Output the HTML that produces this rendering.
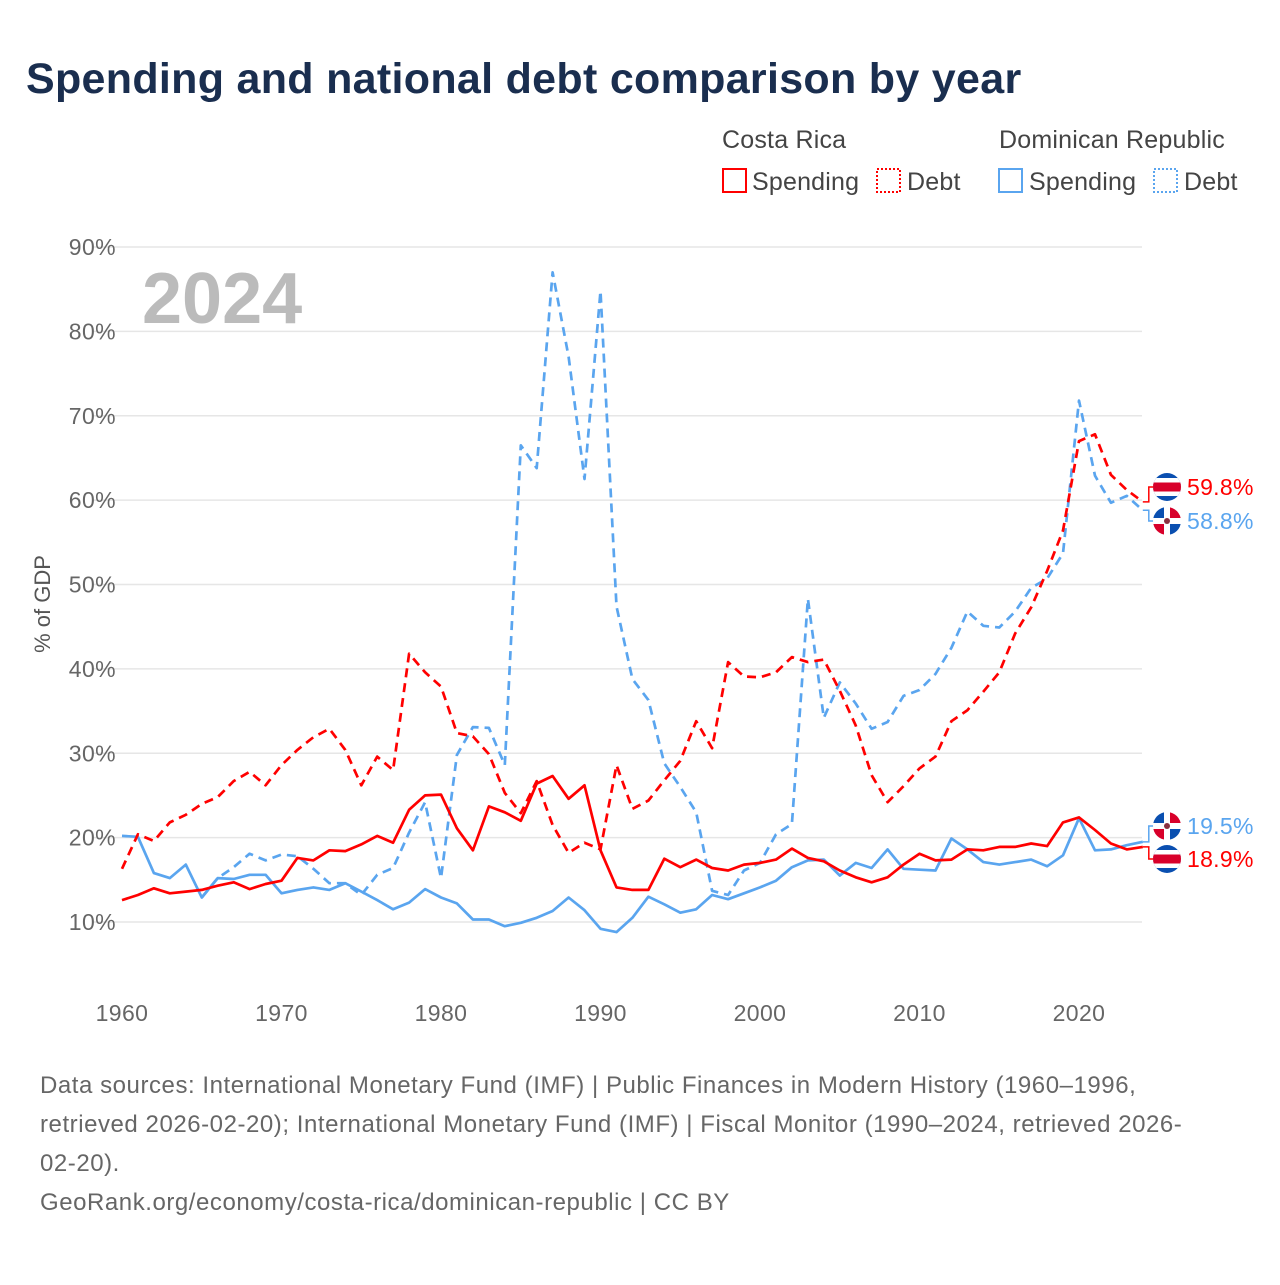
<!DOCTYPE html>
<html><head><meta charset="utf-8"><style>
body{margin:0;background:#fff;font-family:"Liberation Sans",sans-serif}
svg text{font-family:"Liberation Sans",sans-serif}
</style></head><body>
<svg id="c" width="1280" height="1280" xmlns="http://www.w3.org/2000/svg">
<text x="26" y="93" font-size="43" font-weight="bold" fill="#1a2e4f" letter-spacing="0.3">Spending and national debt comparison by year</text>
<g font-size="25" fill="#444" letter-spacing="0.2">
<text x="722" y="148">Costa Rica</text>
<text x="999" y="148">Dominican Republic</text>
<g><rect x="723" y="169" width="23" height="23" fill="none" stroke="#f00" stroke-width="2"/><text x="752" y="190">Spending</text></g>
<g><rect x="877" y="169" width="23" height="23" fill="none" stroke="#f00" stroke-width="2" stroke-dasharray="2,2"/><text x="907" y="190">Debt</text></g>
<g><rect x="999" y="169" width="23" height="23" fill="none" stroke="#5aa5ef" stroke-width="2"/><text x="1029" y="190">Spending</text></g>
<g><rect x="1154" y="169" width="23" height="23" fill="none" stroke="#5aa5ef" stroke-width="2" stroke-dasharray="2,2"/><text x="1184" y="190">Debt</text></g>
</g>
<text x="142" y="323" font-size="72" font-weight="bold" fill="#bbb">2024</text>
<text transform="translate(50,604) rotate(-90)" text-anchor="middle" font-size="22" fill="#555">% of GDP</text>
<g id="grid"></g><g id="lines"></g><g id="ends"></g>
<g font-size="24" fill="#666" letter-spacing="0.55">
<text x="40" y="1093">Data sources: International Monetary Fund (IMF) | Public Finances in Modern History (1960–1996,</text>
<text x="40" y="1132">retrieved 2026-02-20); International Monetary Fund (IMF) | Fiscal Monitor (1990–2024, retrieved 2026-</text>
<text x="40" y="1171">02-20).</text>
<text x="40" y="1210">GeoRank.org/economy/costa-rica/dominican-republic | CC BY</text>
</g>
</svg>
<script>
const yTicks=[10,20,30,40,50,60,70,80,90];
const xTicks=[1960,1970,1980,1990,2000,2010,2020];
const crSpending=[12.6,13.2,14.0,13.4,13.6,13.8,14.3,14.7,13.9,14.5,14.9,17.6,17.3,18.5,18.4,19.2,20.2,19.4,23.3,25.0,25.1,21.1,18.5,23.7,23.0,22.0,26.4,27.3,24.6,26.2,18.5,14.1,13.8,13.8,17.5,16.5,17.4,16.4,16.1,16.8,17.0,17.4,18.7,17.6,17.2,16.1,15.3,14.7,15.3,16.8,18.1,17.3,17.4,18.6,18.5,18.9,18.9,19.3,19.0,21.8,22.4,20.9,19.3,18.6,18.9];
const crDebt=[16.3,20.4,19.6,21.8,22.7,24.0,24.8,26.7,27.8,26.2,28.6,30.4,31.9,32.9,30.4,26.2,29.6,28.0,41.8,39.6,37.9,32.4,32.0,29.9,25.3,22.9,26.7,21.5,18.2,19.4,18.6,28.6,23.4,24.4,26.8,29.1,33.8,30.6,40.8,39.1,39.0,39.6,41.4,40.8,41.1,37.4,33.3,27.4,24.2,26.1,28.2,29.6,33.8,35.1,37.3,39.6,44.2,47.3,51.6,56.4,67.0,67.8,63.0,61.2,59.8];
const drSpending=[20.2,20.1,15.8,15.2,16.8,12.9,15.2,15.1,15.6,15.6,13.4,13.8,14.1,13.8,14.6,13.6,12.6,11.5,12.3,13.9,12.9,12.2,10.3,10.3,9.5,9.9,10.5,11.3,12.9,11.4,9.2,8.8,10.5,13.0,12.1,11.1,11.5,13.2,12.7,13.4,14.1,14.9,16.5,17.3,17.4,15.5,17.0,16.4,18.6,16.3,16.2,16.1,19.9,18.6,17.1,16.8,17.1,17.4,16.6,17.9,22.3,18.5,18.6,19.1,19.5];
const drDebt=[null,null,null,null,null,12.9,15.2,16.5,18.1,17.3,18.0,17.8,16.3,14.6,14.6,13.2,15.6,16.4,20.6,24.2,15.2,29.8,33.1,33.0,28.6,66.5,63.8,87.0,77.0,62.5,84.8,47.4,38.8,36.3,28.8,26.0,23.0,13.7,13.2,16.1,17.0,20.4,21.6,48.3,34.2,38.4,35.9,32.9,33.7,36.8,37.5,39.4,42.5,46.8,45.1,44.9,46.8,49.6,50.7,53.7,71.8,62.9,59.7,60.5,58.8];
const startYear=1960;
const X=y=>122+(y-1960)*(1079-122)/60;
const Y=v=>922-(v-10)*(922-247)/80;
const NS="http://www.w3.org/2000/svg";
function mk(t,a,p){const e=document.createElementNS(NS,t);for(const k in a)e.setAttribute(k,a[k]);p.appendChild(e);return e;}
const grid=document.getElementById('grid');
yTicks.forEach(v=>{
 const l=mk('line',{x1:92,x2:1142,y1:Y(v),y2:Y(v),stroke:'#e6e6e6','stroke-width':1.5},grid);
 
 
 const t=mk('text',{x:116,y:Y(v)+8,'text-anchor':'end','font-size':23,fill:'#666','letter-spacing':0.4},grid);
 t.textContent=v+'%';
 
 
});
xTicks.forEach(yr=>{
 const t=mk('text',{x:X(yr),y:1021,'text-anchor':'middle','font-size':23,fill:'#666','letter-spacing':0.4},grid);
 t.textContent=yr;
 
 
});
const lines=document.getElementById('lines');
function draw(arr,color,dash,name){
 let d='',pen=false;
 arr.forEach((v,i)=>{if(v==null){pen=false;return;}d+=(pen?'L':'M')+X(startYear+i).toFixed(1)+','+Y(v).toFixed(1);pen=true;});
 const p=mk('path',{d:d,fill:'none',stroke:color,'stroke-width':2.7,'stroke-linejoin':'round'},lines);
 if(dash)p.setAttribute('stroke-dasharray','9,6');
 
 
}
draw(drSpending,'#5aa5ef',false,'line-dr-spending');
draw(drDebt,'#5aa5ef',true,'line-dr-debt');
draw(crSpending,'#f00',false,'line-cr-spending');
draw(crDebt,'#f00',true,'line-cr-debt');
const ends=document.getElementById('ends');
function flag(cx,cy,cr,name){
 const g=mk('g',{},ends);
 
 
 const id='cl'+Math.round(cy);
 const cp=mk('clipPath',{id:id},g);mk('circle',{cx:cx,cy:cy,r:14},cp);
 const h=mk('g',{'clip-path':'url(#'+id+')'},g);
 if(cr){
  mk('rect',{x:cx-14,y:cy-14,width:28,height:28,fill:'#0a4fb0'},h);
  mk('rect',{x:cx-14,y:cy-9,width:28,height:18,fill:'#fff'},h);
  mk('rect',{x:cx-14,y:cy-4.5,width:28,height:9,fill:'#d8002a'},h);
 }else{
  mk('rect',{x:cx-14,y:cy-14,width:28,height:28,fill:'#fff'},h);
  mk('rect',{x:cx-14,y:cy-14,width:11,height:11,fill:'#0a4fb0'},h);
  mk('rect',{x:cx+3,y:cy-14,width:11,height:11,fill:'#d8002a'},h);
  mk('rect',{x:cx-14,y:cy+3,width:11,height:11,fill:'#d8002a'},h);
  mk('rect',{x:cx+3,y:cy+3,width:11,height:11,fill:'#0a4fb0'},h);
  mk('circle',{cx:cx,cy:cy,r:3,fill:'#8a3040'},h);
 }
}
function endLabel(v,ly,color,cr,name){
 const x=X(2024);
 const p=mk('path',{d:`M${x},${Y(v)}H${x+6}V${ly}H${x+12}`,fill:'none',stroke:color,'stroke-width':1.5},ends);
 
 
 flag(1167,ly,cr,name+'-flag');
 const t=mk('text',{x:1187,y:ly+8,'font-size':23,fill:color,'letter-spacing':0.3},ends);
 t.textContent=v.toFixed(1)+'%';
 
 
}
endLabel(crDebt[crDebt.length-1],487,'#f00',true,'end-label-cr-debt');
endLabel(drDebt[drDebt.length-1],521,'#5aa5ef',false,'end-label-dr-debt');
endLabel(drSpending[drSpending.length-1],826,'#5aa5ef',false,'end-label-dr-spending');
endLabel(crSpending[crSpending.length-1],859,'#f00',true,'end-label-cr-spending');
</script>
</body></html>
